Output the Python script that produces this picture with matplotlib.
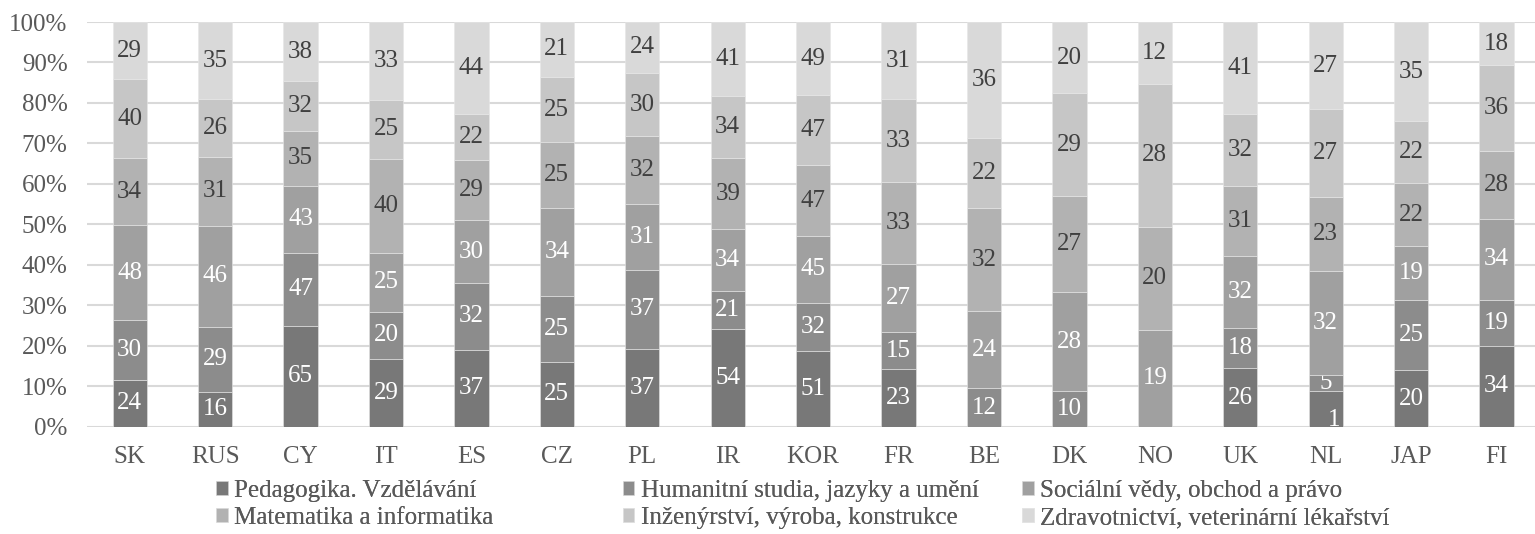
import matplotlib.pyplot as plt
import numpy as np

countries = ["SK", "RUS", "CY", "IT", "ES", "CZ", "PL", "IR", "KOR", "FR",
             "BE", "DK", "NO", "UK", "NL", "JAP", "FI"]
series_names = ["Pedagogika. Vzdělávání",
                "Humanitní studia, jazyky a umění",
                "Sociální vědy, obchod a právo",
                "Matematika a informatika",
                "Inženýrství, výroba, konstrukce",
                "Zdravotnictví, veterinární lékařství"]
pedagogika = [24, 16, 65, 29, 37, 25, 37, 54, 51, 23, 0, 0, 0, 26, 11, 20, 34]
humanitni = [30, 29, 47, 20, 32, 25, 37, 21, 32, 15, 12, 10, 0, 18, 5, 25, 19]
socialni = [48, 46, 43, 25, 30, 34, 31, 34, 45, 27, 24, 28, 19, 32, 32, 19, 34]
matematika = [34, 31, 35, 40, 29, 25, 32, 39, 47, 33, 32, 27, 20, 31, 23, 22, 28]
inzenyrstvi = [40, 26, 32, 25, 22, 25, 30, 34, 47, 33, 22, 29, 28, 32, 27, 22, 36]
zdravotnictvi = [29, 35, 38, 33, 44, 21, 24, 41, 49, 31, 36, 20, 12, 41, 27, 35, 18]

colors = ["#787878", "#8c8c8c", "#a0a0a0", "#b2b2b2", "#c6c6c6", "#d9d9d9"]
text_colors = ["white", "white", "white", "#404040", "#404040", "#404040"]

plt.rcParams['font.family'] = ['Liberation Serif', 'DejaVu Serif']

data = np.array([pedagogika, humanitni, socialni, matematika, inzenyrstvi, zdravotnictvi], dtype=float)
pct = data / data.sum(axis=0) * 100
x = np.arange(len(countries))

fig = plt.figure(figsize=(15.35, 5.34), dpi=100)
ax = fig.add_axes([87 / 1535, 0.2004, 1 - 87 / 1535, 0.7584])

bottom = np.zeros(len(countries))
handles = []
for i in range(6):
    bars = ax.bar(x, pct[i], 0.4, bottom=bottom, color=colors[i],
                  edgecolor='#e6e6e6', linewidth=0.4, label=series_names[i], zorder=3)
    handles.append(bars)
    labels = [str(int(v)) if v > 0 else "" for v in data[i]]
    if i == 0:
        # NL label is partly hidden in the original, only "1" shows near the bottom
        nl = countries.index("NL")
        labels[nl] = ""
        ax.text(x[nl] + 0.17, -1.0, "1", ha='right', va='bottom', color='white',
                fontsize=18, zorder=4)
    ax.bar_label(bars, labels=labels, label_type='center', color=text_colors[i], fontsize=18)
    bottom += pct[i]

ax.set_ylim(0, 100)
ax.set_xlim(-0.5, 16.45)
ax.set_yticks(np.arange(0, 101, 10))
ax.set_yticklabels([f"{v}%" for v in range(0, 101, 10)])
ax.set_xticks(x)
ax.set_xticklabels(countries)
ax.tick_params(axis='both', length=0, labelsize=18, labelcolor='#595959')
ax.tick_params(axis='x', pad=14)
ax.tick_params(axis='y', pad=14)
ax.yaxis.grid(True, color='#d9d9d9', linewidth=1.5, zorder=0)
for s in ax.spines.values():
    s.set_visible(False)

# legend: three columns, two rows (row-wise order as in the original)
col_x = [0.141, 0.406, 0.666]
for c in range(3):
    leg = fig.legend([handles[c], handles[c + 3]], [series_names[c], series_names[c + 3]],
                     loc='upper left', bbox_to_anchor=(col_x[c], 0.101), frameon=False,
                     fontsize=18, handlelength=0.45, handleheight=0.45, handletextpad=0.25,
                     labelspacing=0.2, labelcolor='#595959', borderpad=0, borderaxespad=0)
    fig.add_artist(leg)

fig.savefig("out.png", dpi=100)
